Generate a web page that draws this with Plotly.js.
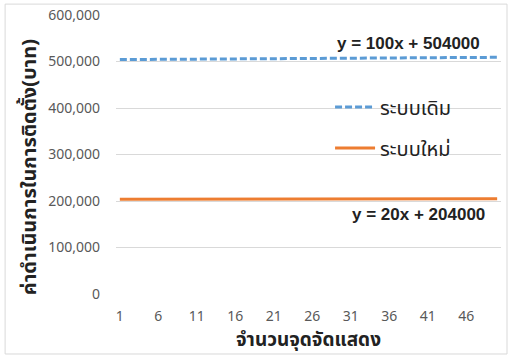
<!DOCTYPE html>
<html>
<head>
<meta charset="utf-8">
<script src="https://cdn.plot.ly/plotly-3.0.1.min.js"></script>
<style>
  html, body { margin: 0; padding: 0; background: #fff; }
  #chart { width: 509px; height: 356px; }
</style>
</head>
<body>
<div id="chart"></div>
<script>
// Number of display points (x axis categories)
const points = [
  1, 2, 3, 4, 5, 6, 7, 8, 9, 10,
  11, 12, 13, 14, 15, 16, 17, 18, 19, 20,
  21, 22, 23, 24, 25, 26, 27, 28, 29, 30,
  31, 32, 33, 34, 35, 36, 37, 38, 39, 40,
  41, 42, 43, 44, 45, 46, 47, 48, 49, 50
];

// Installation cost, old system (baht)
const oldSystem = [
  504100, 504200, 504300, 504400, 504500, 504600, 504700, 504800, 504900, 505000,
  505100, 505200, 505300, 505400, 505500, 505600, 505700, 505800, 505900, 506000,
  506100, 506200, 506300, 506400, 506500, 506600, 506700, 506800, 506900, 507000,
  507100, 507200, 507300, 507400, 507500, 507600, 507700, 507800, 507900, 508000,
  508100, 508200, 508300, 508400, 508500, 508600, 508700, 508800, 508900, 509000
];

// Installation cost, new system (baht)
const newSystem = [
  204020, 204040, 204060, 204080, 204100, 204120, 204140, 204160, 204180, 204200,
  204220, 204240, 204260, 204280, 204300, 204320, 204340, 204360, 204380, 204400,
  204420, 204440, 204460, 204480, 204500, 204520, 204540, 204560, 204580, 204600,
  204620, 204640, 204660, 204680, 204700, 204720, 204740, 204760, 204780, 204800,
  204820, 204840, 204860, 204880, 204900, 204920, 204940, 204960, 204980, 205000
];

const xTicks = [1, 6, 11, 16, 21, 26, 31, 36, 41, 46];
const yTicks = [0, 100000, 200000, 300000, 400000, 500000, 600000];

const seriesNames = ['ระบบเดิม', 'ระบบใหม่'];
const trendLabels = ['y = 100x + 504000', 'y = 20x + 204000'];
const xTitle = 'จำนวนจุดจัดแสดง';
const yTitle = 'ค่าดำเนินการในการติดตั้ง(บาท)';

const font = '"Segoe UI", "Noto Sans", "Noto Sans Thai", sans-serif';
const eqFont = 'Arial, "Liberation Sans", sans-serif';

const traces = [
  {
    x: points, y: oldSystem, name: seriesNames[0], type: 'scatter', mode: 'lines',
    line: { color: '#5B9BD5', width: 3, dash: '7px,3px' },
    legendgroup: 'a'
  },
  {
    x: points, y: newSystem, name: seriesNames[1], type: 'scatter', mode: 'lines',
    line: { color: '#ED7D31', width: 3 },
    legendgroup: 'b'
  }
];

const layout = {
  width: 509, height: 356,
  margin: { l: 116, r: 8, t: 15, b: 62 },
  paper_bgcolor: '#fff', plot_bgcolor: '#fff',
  font: { family: font, color: '#595959', size: 14 },
  showlegend: true,
  legend: {
    x: 0.556, y: 0.74, xanchor: 'left', yanchor: 'top',
    bgcolor: 'rgba(0,0,0,0)',
    font: { size: 20, color: '#222', family: font },
    itemwidth: 40,
    traceorder: 'grouped', tracegroupgap: 12
  },
  xaxis: {
    range: [0.5, 50.5],
    tickmode: 'array', tickvals: xTicks, ticktext: xTicks.map(String),
    showgrid: false, zeroline: false, showline: false, ticks: '',
    ticklabelstandoff: 12
  },
  yaxis: {
    range: [0, 600000],
    tickmode: 'array', tickvals: yTicks,
    ticktext: yTicks.map(v => v.toLocaleString('en-US')),
    showgrid: true, gridcolor: '#D9D9D9', gridwidth: 1,
    zeroline: false, showline: false, ticks: '',
    ticklabelstandoff: 15
  },
  annotations: [
    // axis titles
    {
      xref: 'paper', yref: 'paper', x: 0.499, y: -0.162, xanchor: 'center', yanchor: 'middle',
      text: '<b>' + xTitle + '</b>', showarrow: false,
      font: { size: 19, color: '#222', family: font }
    },
    {
      xref: 'paper', yref: 'paper', x: -0.228, y: 0.455, xanchor: 'center', yanchor: 'middle',
      text: '<b>' + yTitle + '</b>', showarrow: false, textangle: -90,
      font: { size: 20, color: '#222', family: font }
    },
    // trendline equations
    {
      xref: 'paper', yref: 'paper', x: 0.9506, y: 0.8996, xanchor: 'right', yanchor: 'middle',
      text: '<b>' + trendLabels[0] + '</b>', showarrow: false,
      font: { size: 17, color: '#222', family: eqFont }
    },
    {
      xref: 'paper', yref: 'paper', x: 0.9636, y: 0.2867, xanchor: 'right', yanchor: 'middle',
      text: '<b>' + trendLabels[1] + '</b>', showarrow: false,
      font: { size: 17, color: '#222', family: eqFont }
    }
  ],
  shapes: [
    {
      type: 'rect', xref: 'paper', yref: 'paper',
      x0: -0.288, x1: 1.0156, y0: -0.215, y1: 1.039,
      line: { color: '#D9D9D9', width: 1 }, fillcolor: 'rgba(0,0,0,0)', layer: 'below'
    }
  ]
};

Plotly.newPlot('chart', traces, layout, { displayModeBar: false, staticPlot: true });
</script>
</body>
</html>
